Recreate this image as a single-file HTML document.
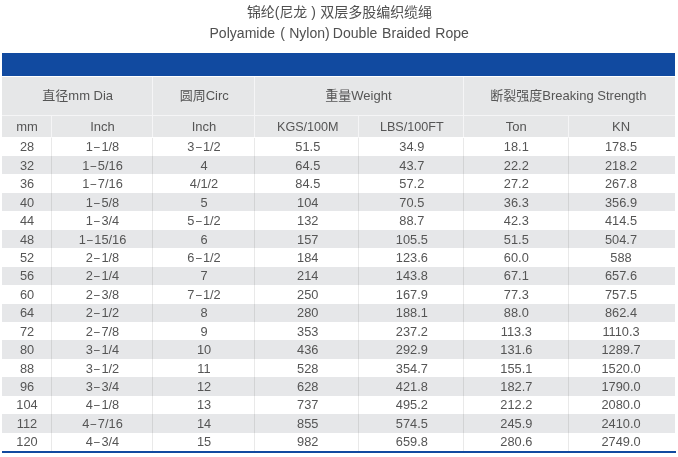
<!DOCTYPE html>
<html><head><meta charset="utf-8"><title>锦纶(尼龙)双层多股编织缆绳</title>
<style>
html,body{margin:0;padding:0;background:#fff;}
body{width:678px;height:457px;position:relative;overflow:hidden;font-family:"Liberation Sans","Noto Sans CJK SC",sans-serif;color:#4a4a4a;}
.t{position:absolute;left:0;width:678px;text-align:center;white-space:nowrap;}
.bar{position:absolute;left:2px;width:673.2px;top:52.5px;height:23.3px;background:#114aa0;}
.hd{position:absolute;left:2.4px;width:672.8px;top:77.2px;height:60.3px;background:#e6e7e8;}
.row{position:absolute;left:2.4px;width:672.8px;background:#e6e7e9;}
.v{position:absolute;width:1px;background:#f5f5f6;}
.v2{position:absolute;width:1px;background:rgba(0,0,0,0.085);}
.h{position:absolute;height:1px;background:#f5f5f6;}
.c i{font-style:normal;display:inline-block;transform:scaleX(0.8);margin:0 0.7px;}
.c{position:absolute;text-align:center;white-space:nowrap;font-size:12.8px;color:#555;line-height:18px;transform:translateX(-50%);}
.hc{position:absolute;text-align:center;white-space:nowrap;font-size:13px;color:#555;line-height:18px;transform:translateX(-50%);}
.bot{position:absolute;left:2px;width:673.8px;top:450.7px;height:2.2px;background:#114aa0;}
</style></head><body>
<div class="t" style="top:2.2px;font-size:14.05px;line-height:20px;color:#505050;text-align:left;left:0"><span id="c1" style="position:absolute;left:246.9px;font-size:13.95px">锦纶(尼龙 )</span><span id="c3" style="position:absolute;left:320.3px;letter-spacing:-0.08px">双层多股编织缆绳</span></div>
<div class="t" style="top:23.4px;font-size:14.05px;line-height:20px;color:#505050;text-align:left;left:0"><span id="w1" style="position:absolute;left:209.5px">Polyamide</span><span id="w2" style="position:absolute;left:280.2px">(</span><span id="w3" style="position:absolute;left:289.2px">Nylon)</span><span id="w4" style="position:absolute;left:332.8px;word-spacing:0.9px">Double Braided Rope</span></div>
<div class="bar"></div>
<div class="hd"></div>

<div class="row" style="top:156.04px;height:18.44px"></div>
<div class="row" style="top:192.92px;height:18.44px"></div>
<div class="row" style="top:229.80px;height:18.44px"></div>
<div class="row" style="top:266.68px;height:18.44px"></div>
<div class="row" style="top:303.56px;height:18.44px"></div>
<div class="row" style="top:340.44px;height:18.44px"></div>
<div class="row" style="top:377.32px;height:18.44px"></div>
<div class="row" style="top:414.20px;height:18.44px"></div>
<div class="v2" style="left:50.8px;top:137.6px;height:313.5px"></div>
<div class="v2" style="left:152.4px;top:137.6px;height:313.5px"></div>
<div class="v2" style="left:254.1px;top:137.6px;height:313.5px"></div>
<div class="v2" style="left:358.4px;top:137.6px;height:313.5px"></div>
<div class="v2" style="left:462.8px;top:137.6px;height:313.5px"></div>
<div class="v2" style="left:567.8px;top:137.6px;height:313.5px"></div>
<div class="v" style="left:152.3px;top:77.2px;height:60.3px"></div>
<div class="v" style="left:254.0px;top:77.2px;height:60.3px"></div>
<div class="v" style="left:462.7px;top:77.2px;height:60.3px"></div>
<div class="v" style="left:50.7px;top:115px;height:22.5px"></div>
<div class="v" style="left:358.3px;top:115px;height:22.5px"></div>
<div class="v" style="left:567.7px;top:115px;height:22.5px"></div>
<div class="h" style="left:2px;width:673px;top:114.8px"></div>
<div class="hc" style="left:77.7px;top:87.3px">直径mm Dia</div>
<div class="hc" style="left:204.2px;top:87.3px">圆周Circ</div>
<div class="hc" style="left:358.4px;top:87.3px">重量Weight</div>
<div class="hc" style="left:568.4px;top:87.3px">断裂强度Breaking Strength</div>
<div class="hc" style="left:27.0px;top:118.3px">mm</div>
<div class="hc" style="left:102.5px;top:118.3px">Inch</div>
<div class="hc" style="left:204.0px;top:118.3px">Inch</div>
<div class="hc" style="left:307.8px;top:118.3px;font-size:12.6px">KGS/100M</div>
<div class="hc" style="left:411.8px;top:118.3px;font-size:12.6px">LBS/100FT</div>
<div class="hc" style="left:516.3px;top:118.3px">Ton</div>
<div class="hc" style="left:621.0px;top:118.3px">KN</div>
<div class="c" style="left:27.0px;top:138.30px">28</div>
<div class="c" style="left:102.5px;top:138.30px">1<i>–</i>1/8</div>
<div class="c" style="left:204.0px;top:138.30px">3<i>–</i>1/2</div>
<div class="c" style="left:307.8px;top:138.30px">51.5</div>
<div class="c" style="left:411.8px;top:138.30px">34.9</div>
<div class="c" style="left:516.3px;top:138.30px">18.1</div>
<div class="c" style="left:621.0px;top:138.30px">178.5</div>
<div class="c" style="left:27.0px;top:156.74px">32</div>
<div class="c" style="left:102.5px;top:156.74px">1<i>–</i>5/16</div>
<div class="c" style="left:204.0px;top:156.74px">4</div>
<div class="c" style="left:307.8px;top:156.74px">64.5</div>
<div class="c" style="left:411.8px;top:156.74px">43.7</div>
<div class="c" style="left:516.3px;top:156.74px">22.2</div>
<div class="c" style="left:621.0px;top:156.74px">218.2</div>
<div class="c" style="left:27.0px;top:175.18px">36</div>
<div class="c" style="left:102.5px;top:175.18px">1<i>–</i>7/16</div>
<div class="c" style="left:204.0px;top:175.18px">4/1/2</div>
<div class="c" style="left:307.8px;top:175.18px">84.5</div>
<div class="c" style="left:411.8px;top:175.18px">57.2</div>
<div class="c" style="left:516.3px;top:175.18px">27.2</div>
<div class="c" style="left:621.0px;top:175.18px">267.8</div>
<div class="c" style="left:27.0px;top:193.62px">40</div>
<div class="c" style="left:102.5px;top:193.62px">1<i>–</i>5/8</div>
<div class="c" style="left:204.0px;top:193.62px">5</div>
<div class="c" style="left:307.8px;top:193.62px">104</div>
<div class="c" style="left:411.8px;top:193.62px">70.5</div>
<div class="c" style="left:516.3px;top:193.62px">36.3</div>
<div class="c" style="left:621.0px;top:193.62px">356.9</div>
<div class="c" style="left:27.0px;top:212.06px">44</div>
<div class="c" style="left:102.5px;top:212.06px">1<i>–</i>3/4</div>
<div class="c" style="left:204.0px;top:212.06px">5<i>–</i>1/2</div>
<div class="c" style="left:307.8px;top:212.06px">132</div>
<div class="c" style="left:411.8px;top:212.06px">88.7</div>
<div class="c" style="left:516.3px;top:212.06px">42.3</div>
<div class="c" style="left:621.0px;top:212.06px">414.5</div>
<div class="c" style="left:27.0px;top:230.50px">48</div>
<div class="c" style="left:102.5px;top:230.50px">1<i>–</i>15/16</div>
<div class="c" style="left:204.0px;top:230.50px">6</div>
<div class="c" style="left:307.8px;top:230.50px">157</div>
<div class="c" style="left:411.8px;top:230.50px">105.5</div>
<div class="c" style="left:516.3px;top:230.50px">51.5</div>
<div class="c" style="left:621.0px;top:230.50px">504.7</div>
<div class="c" style="left:27.0px;top:248.94px">52</div>
<div class="c" style="left:102.5px;top:248.94px">2<i>–</i>1/8</div>
<div class="c" style="left:204.0px;top:248.94px">6<i>–</i>1/2</div>
<div class="c" style="left:307.8px;top:248.94px">184</div>
<div class="c" style="left:411.8px;top:248.94px">123.6</div>
<div class="c" style="left:516.3px;top:248.94px">60.0</div>
<div class="c" style="left:621.0px;top:248.94px">588</div>
<div class="c" style="left:27.0px;top:267.38px">56</div>
<div class="c" style="left:102.5px;top:267.38px">2<i>–</i>1/4</div>
<div class="c" style="left:204.0px;top:267.38px">7</div>
<div class="c" style="left:307.8px;top:267.38px">214</div>
<div class="c" style="left:411.8px;top:267.38px">143.8</div>
<div class="c" style="left:516.3px;top:267.38px">67.1</div>
<div class="c" style="left:621.0px;top:267.38px">657.6</div>
<div class="c" style="left:27.0px;top:285.82px">60</div>
<div class="c" style="left:102.5px;top:285.82px">2<i>–</i>3/8</div>
<div class="c" style="left:204.0px;top:285.82px">7<i>–</i>1/2</div>
<div class="c" style="left:307.8px;top:285.82px">250</div>
<div class="c" style="left:411.8px;top:285.82px">167.9</div>
<div class="c" style="left:516.3px;top:285.82px">77.3</div>
<div class="c" style="left:621.0px;top:285.82px">757.5</div>
<div class="c" style="left:27.0px;top:304.26px">64</div>
<div class="c" style="left:102.5px;top:304.26px">2<i>–</i>1/2</div>
<div class="c" style="left:204.0px;top:304.26px">8</div>
<div class="c" style="left:307.8px;top:304.26px">280</div>
<div class="c" style="left:411.8px;top:304.26px">188.1</div>
<div class="c" style="left:516.3px;top:304.26px">88.0</div>
<div class="c" style="left:621.0px;top:304.26px">862.4</div>
<div class="c" style="left:27.0px;top:322.70px">72</div>
<div class="c" style="left:102.5px;top:322.70px">2<i>–</i>7/8</div>
<div class="c" style="left:204.0px;top:322.70px">9</div>
<div class="c" style="left:307.8px;top:322.70px">353</div>
<div class="c" style="left:411.8px;top:322.70px">237.2</div>
<div class="c" style="left:516.3px;top:322.70px">113.3</div>
<div class="c" style="left:621.0px;top:322.70px">1110.3</div>
<div class="c" style="left:27.0px;top:341.14px">80</div>
<div class="c" style="left:102.5px;top:341.14px">3<i>–</i>1/4</div>
<div class="c" style="left:204.0px;top:341.14px">10</div>
<div class="c" style="left:307.8px;top:341.14px">436</div>
<div class="c" style="left:411.8px;top:341.14px">292.9</div>
<div class="c" style="left:516.3px;top:341.14px">131.6</div>
<div class="c" style="left:621.0px;top:341.14px">1289.7</div>
<div class="c" style="left:27.0px;top:359.58px">88</div>
<div class="c" style="left:102.5px;top:359.58px">3<i>–</i>1/2</div>
<div class="c" style="left:204.0px;top:359.58px">11</div>
<div class="c" style="left:307.8px;top:359.58px">528</div>
<div class="c" style="left:411.8px;top:359.58px">354.7</div>
<div class="c" style="left:516.3px;top:359.58px">155.1</div>
<div class="c" style="left:621.0px;top:359.58px">1520.0</div>
<div class="c" style="left:27.0px;top:378.02px">96</div>
<div class="c" style="left:102.5px;top:378.02px">3<i>–</i>3/4</div>
<div class="c" style="left:204.0px;top:378.02px">12</div>
<div class="c" style="left:307.8px;top:378.02px">628</div>
<div class="c" style="left:411.8px;top:378.02px">421.8</div>
<div class="c" style="left:516.3px;top:378.02px">182.7</div>
<div class="c" style="left:621.0px;top:378.02px">1790.0</div>
<div class="c" style="left:27.0px;top:396.46px">104</div>
<div class="c" style="left:102.5px;top:396.46px">4<i>–</i>1/8</div>
<div class="c" style="left:204.0px;top:396.46px">13</div>
<div class="c" style="left:307.8px;top:396.46px">737</div>
<div class="c" style="left:411.8px;top:396.46px">495.2</div>
<div class="c" style="left:516.3px;top:396.46px">212.2</div>
<div class="c" style="left:621.0px;top:396.46px">2080.0</div>
<div class="c" style="left:27.0px;top:414.90px">112</div>
<div class="c" style="left:102.5px;top:414.90px">4<i>–</i>7/16</div>
<div class="c" style="left:204.0px;top:414.90px">14</div>
<div class="c" style="left:307.8px;top:414.90px">855</div>
<div class="c" style="left:411.8px;top:414.90px">574.5</div>
<div class="c" style="left:516.3px;top:414.90px">245.9</div>
<div class="c" style="left:621.0px;top:414.90px">2410.0</div>
<div class="c" style="left:27.0px;top:433.34px">120</div>
<div class="c" style="left:102.5px;top:433.34px">4<i>–</i>3/4</div>
<div class="c" style="left:204.0px;top:433.34px">15</div>
<div class="c" style="left:307.8px;top:433.34px">982</div>
<div class="c" style="left:411.8px;top:433.34px">659.8</div>
<div class="c" style="left:516.3px;top:433.34px">280.6</div>
<div class="c" style="left:621.0px;top:433.34px">2749.0</div>
<div class="bot"></div>
</body></html>
